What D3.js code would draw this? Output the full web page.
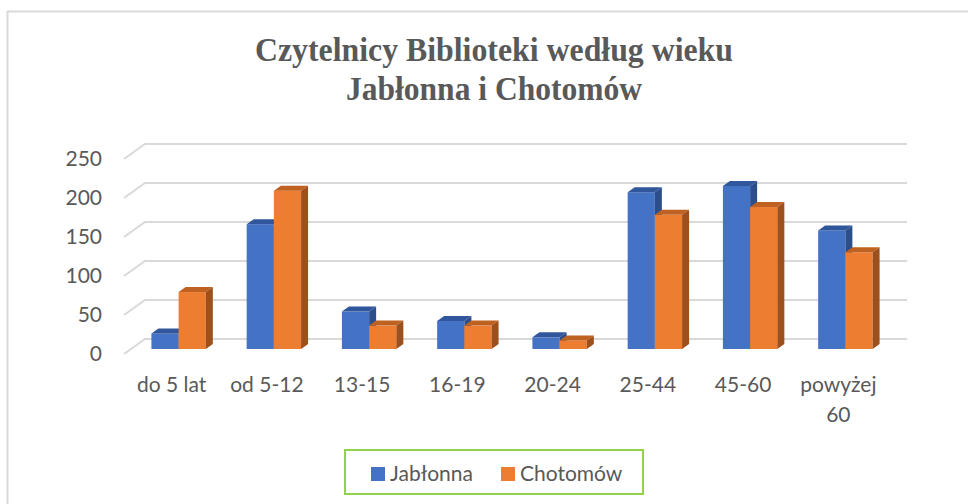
<!DOCTYPE html>
<html>
<head>
<meta charset="utf-8">
<script src="https://cdn.jsdelivr.net/npm/d3@7"></script>
<style>
  body { margin: 0; background: #fff; }
  svg { display: block; }
  text { font-family: Lato, "Open Sans", sans-serif; fill: #595959; }
</style>
</head>
<body>
<svg id="chart" width="968" height="504"></svg>
<script>
// chart data
var categories = ["do 5 lat", "od 5-12", "13-15", "16-19", "20-24", "25-44", "45-60", "powyżej 60"];
var seriesNames = ["Jabłonna", "Chotomów"];
var jablonna = [20, 160, 48, 36, 15, 201, 209, 152];
var chotomow = [73, 203, 30, 30, 11, 172, 182, 124];
var yTicks = [0, 50, 100, 150, 200, 250];
var titleLines = ["Czytelnicy Biblioteki według wieku", "Jabłonna i Chotomów"];

var colors = {
  "Jabłonna": { front: "#4472c4", top: "#30579b", side: "#2c4f8c" },
  "Chotomów": { front: "#ed7d31", top: "#bf6120", side: "#9d4f1c" }
};

var svg = d3.select("#chart");

// frame of the chart area
svg.append("line").attr("x1", 7).attr("x2", 968).attr("y1", 11.5).attr("y2", 11.5)
  .style("stroke", "#d9d9d9").style("stroke-width", 2);
svg.append("line").attr("x1", 7.5).attr("x2", 7.5).attr("y1", 11).attr("y2", 504)
  .style("stroke", "#d9d9d9").style("stroke-width", 2);

// title (narrow serif, squeezed to the width seen in the picture)
var titleWidths = [478, 296];
titleLines.forEach(function(t, i){
  svg.append("text")
    .attr("x", 494).attr("y", 61 + i * 39)
    .attr("text-anchor", "middle")
    .attr("textLength", titleWidths[i])
    .attr("lengthAdjust", "spacingAndGlyphs")
    .style("font-family", "'Liberation Serif', 'Times New Roman', serif")
    .style("font-weight", "bold")
    .style("font-size", "33px")
    .text(t);
});

// 3d geometry: floor depth goes 21px right and 15px up, bars sit in the middle third
var frontBase = 354, depthX = 21, depthY = 15;
var barDX = depthX / 3, barDY = depthY / 3;

var y = d3.scaleLinear().domain([0, 250]).range([0, 195]);
var x0 = d3.scaleBand().domain(categories).range([124, 886]);
var x1 = d3.scaleBand().domain(seriesNames).range([0, x0.bandwidth()]).paddingOuter(0.75).paddingInner(0);

// gridlines: left side wall + back wall
var grid = svg.append("g");
yTicks.forEach(function(v){
  var yf = frontBase - y(v);
  var yb = yf - depthY;
  grid.append("path")
    .attr("d", "M124," + yf + "L" + (124 + depthX) + "," + yb + "L907," + yb)
    .style("fill", "none").style("stroke", "#d9d9d9").style("stroke-width", 2);
});

// y axis labels
svg.append("g").selectAll("text").data(yTicks).enter().append("text")
  .attr("x", 102)
  .attr("y", function(d){ return frontBase - y(d); })
  .attr("dy", "0.35em")
  .attr("text-anchor", "end")
  .style("font-size", "21px")
  .text(function(d){ return d; });

// x axis labels (wrap long ones)
var xl = svg.append("g");
categories.forEach(function(c){
  var cx = x0(c) + x0.bandwidth() / 2;
  var lines = c == "powyżej 60" ? ["powyżej", "60"] : [c];
  var t = xl.append("text").attr("text-anchor", "middle").style("font-size", "21px");
  lines.forEach(function(l, i){
    t.append("tspan").attr("x", cx).attr("y", 392 + i * 30).text(l);
  });
});

// bars
var barBase = frontBase - barDY;
var seriesData = [jablonna, chotomow];
var bars = svg.append("g");
categories.forEach(function(c, ci){
  seriesNames.forEach(function(s, si){
    var v = seriesData[si][ci];
    var xa = x0(c) + barDX + x1(s);
    var xb = xa + x1.bandwidth();
    var yt = barBase - y(v);
    var col = colors[s];
    var g = bars.append("g");
    // front face
    g.append("rect").attr("x", xa).attr("y", yt).attr("width", xb - xa).attr("height", barBase - yt)
      .style("fill", col.front);
    // top face
    g.append("path")
      .attr("d", "M" + xa + "," + yt + "L" + xb + "," + yt + "L" + (xb + barDX) + "," + (yt - barDY) +
        "L" + (xa + barDX) + "," + (yt - barDY) + "Z")
      .style("fill", col.top);
    // side face
    g.append("path")
      .attr("d", "M" + xb + "," + yt + "L" + (xb + barDX) + "," + (yt - barDY) + "L" + (xb + barDX) + "," +
        (barBase - barDY) + "L" + xb + "," + barBase + "Z")
      .style("fill", col.side);
  });
});

// legend
var legend = svg.append("g");
legend.append("rect").attr("x", 345).attr("y", 450).attr("width", 298).attr("height", 44)
  .style("fill", "#fff").style("stroke", "#92d050").style("stroke-width", 2);
var legendX = [371, 501];
seriesNames.forEach(function(s, i){
  legend.append("rect").attr("x", legendX[i]).attr("y", 467).attr("width", 14).attr("height", 14)
    .style("fill", colors[s].front);
  legend.append("text").attr("x", legendX[i] + 19).attr("y", 481)
    .style("font-size", "21px").text(s);
});
</script>
</body>
</html>
